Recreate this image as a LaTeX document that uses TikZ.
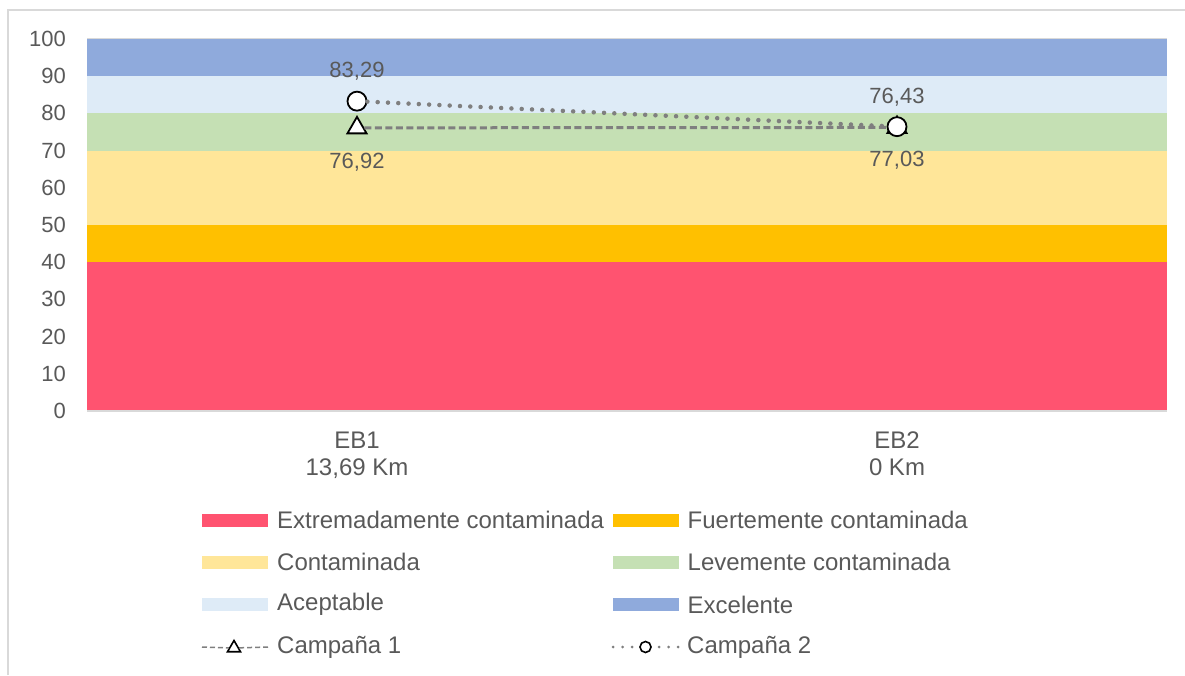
\documentclass[tikz,border=0pt]{standalone}
\usepackage{fontspec}
\setmainfont{Liberation Sans}
\usetikzlibrary{positioning,shapes.geometric}

\definecolor{txtgray}{HTML}{595959}
\definecolor{framegray}{HTML}{D9D9D9}
\definecolor{linegray}{HTML}{7F7F7F}
\definecolor{extrema}{HTML}{FF5370}
\definecolor{fuerte}{HTML}{FFC000}
\definecolor{contam}{HTML}{FFE699}
\definecolor{leve}{HTML}{C5E0B4}
\definecolor{acept}{HTML}{DEEBF7}
\definecolor{excel}{HTML}{8FAADC}

\tikzset{
  axlbl/.style={text=txtgray,font=\fontsize{22}{26}\selectfont,inner sep=0pt,anchor=east},
  catlbl/.style={text=txtgray,font=\fontsize{24}{27}\selectfont,inner sep=0pt,align=center,anchor=north},
  leglbl/.style={text=txtgray,font=\fontsize{24}{27}\selectfont,inner sep=0pt},
  swatch/.style={minimum width=66pt,minimum height=13pt,inner sep=0pt,outer sep=0pt},
  tri/.style={regular polygon,regular polygon sides=3,draw=black,fill=white,line width=1.8pt,minimum size=22pt,inner sep=0pt,yshift=-3pt},
  circ/.style={circle,draw=black,fill=white,line width=1.8pt,minimum size=19pt,inner sep=0pt},
  camp1/.style={linegray,line width=3pt,dash pattern=on 7pt off 3.5pt},
  camp2/.style={linegray,line width=4.5pt,line cap=round,dash pattern=on 0pt off 10.3pt},
  every label/.style={text=txtgray,font=\fontsize{22}{26}\selectfont},
}

\begin{document}
\begin{tikzpicture}[x=1pt,y=1pt]
\useasboundingbox (0,0) rectangle (1185,675);
\draw[framegray,line width=2pt] (8,0)--(8,665)--(1185,665);

\begin{scope}[shift={(87,264)},y=3.72pt]
  % quality bands
  \foreach \lo/\hi/\col in {0/40/extrema,40/50/fuerte,50/70/contam,70/80/leve,80/90/acept,90/100/excel}
    \fill[\col] (0,\lo) rectangle (1080,\hi);
  \draw[framegray,line width=1pt] (0,100)--(1080,100);
  \draw[framegray,line width=1.5pt] (0,0)--(1080,0);
  \foreach \v in {0,10,...,100}
    \node[axlbl] (y\v) at (-21,\v) {\v};

  \node[catlbl] (eb1) at (270,-5.5) {EB1\\13,69 Km};
  \node[catlbl] (eb2) at (810,-5.5) {EB2\\0 Km};

  % Campaña 1
  \node[tri,label={[label distance=15pt]below:{76,92}}] (c1a) at (270,76.92) {};
  \node[tri,label={[label distance=14pt]below:{77,03}}] (c1b) at (810,77.03) {};
  \draw[camp1] (c1a)--(c1b);
  % Campaña 2
  \node[circ,label={[label distance=7pt]above:{83,29}}] (c2a) at (270,83.29) {};
  \node[circ,label={[label distance=6.5pt]above:{76,43}}] (c2b) at (810,76.43) {};
  \draw[camp2] (c2a)--(c2b);
\end{scope}

% legend
\foreach \col/\name/\xx/\yy in {extrema/Extremadamente contaminada/235/155,fuerte/Fuertemente contaminada/645.5/155,contam/Contaminada/235/113,leve/Levemente contaminada/645.5/113,acept/Aceptable/235/70.5,excel/Excelente/645.5/70.5}{
  \node[swatch,fill=\col] (sw-\col) at (\xx,\yy) {};
  \node[leglbl,right=9pt of sw-\col] (lg-\col) {\name};
}
\coordinate (l1a) at (202,28);
\coordinate (l1b) at (268,28);
\node[tri,minimum size=15pt,line width=1.6pt,yshift=2pt] (m1) at (234,28) {};
\draw[camp1,line width=1.5pt,dash pattern=on 5pt off 3pt] (l1a)--(m1) (m1)--(l1b);
\node[leglbl,right=9pt of l1b] (lg-c1) {Campaña 1};

\coordinate (l2a) at (613,28);
\coordinate (l2b) at (678,28);
\node[circ,minimum size=11pt,line width=1.6pt] (m2) at (645.5,28) {};
\draw[camp2,line width=3pt,dash pattern=on 0pt off 9.5pt] (l2a)--(m2);
\draw[camp2,line width=3pt,dash pattern=on 0pt off 9.5pt] (l2b)--(m2);
\node[leglbl,right=9pt of l2b] (lg-c2) {Campaña 2};
\end{tikzpicture}
\end{document}
